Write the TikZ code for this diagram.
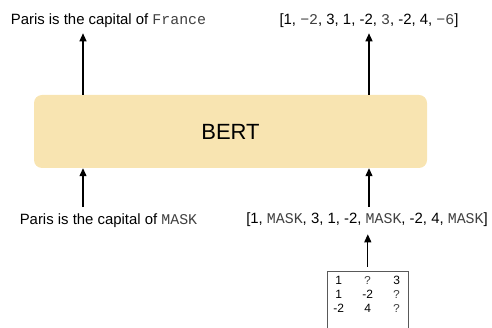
\documentclass[tikz,border=0pt]{standalone}
\usepackage{fontspec}
\setmainfont{Liberation Sans}
\setmonofont{Liberation Mono}
\usetikzlibrary{arrows.meta,matrix}
\definecolor{bertfill}{HTML}{F8E4B1}
\definecolor{monogray}{gray}{0.25}
% predicted / masked tokens are set in a typewriter face
\newcommand{\tok}[1]{{\ttfamily\color{monogray}#1}}

\begin{document}
\begin{tikzpicture}[x=1pt,y=-1pt,
  lbl/.style={font=\fontsize{14.9}{17}\selectfont, inner sep=0pt, anchor=base},
  arr/.style={-{Triangle[length=8pt,width=7pt]}, line width=1.2pt},
  modelbox/.style={fill=bertfill, rounded corners=8pt, minimum width=393pt,
    minimum height=73pt, font=\fontsize{22}{26}\selectfont},
  tblframe/.style={draw=black!65, line width=0.8pt}]
\useasboundingbox (0,0) rectangle (492,328);

% model
\node[modelbox] (bert) at (230.5,131.5) {BERT};

% arrow columns
\coordinate (xL) at (83,0);
\coordinate (xR) at (369,0);

% outputs
\node[lbl] (outL) at (108.5,25) {Paris is the capital of \tok{France}};
\node[lbl] (outR) at (369,25) {[1, \tok{−2}, 3, 1, -2, \tok{3}, -2, 4, \tok{−6}]};

% inputs
\node[lbl] (inL) at (108.5,225) {Paris is the capital of \tok{MASK}};
\node[lbl] (inR) at (367,224) {[1, \tok{MASK}, 3, 1, -2, \tok{MASK}, -2, 4, \tok{MASK}]};

% partially observed table
\matrix (tbl) [matrix of nodes, anchor=north east, inner sep=0pt,
  column sep=7pt, row sep=0pt,
  nodes={anchor=center, minimum width=22pt, minimum height=14pt, inner sep=0pt,
    font=\fontsize{12}{14}\selectfont}] at (408,273) {
  1  & \tok{?} & 3 \\
  1  & -2      & \tok{?} \\
  -2 & 4       & \tok{?} \\
};
\draw[tblframe] ([yshift=2pt]tbl.north west) rectangle ([yshift=-20pt]tbl.south east);

% connectors
\draw[arr, shorten >=5pt] (bert.north -| xL) -- (outL.south -| xL);
\draw[arr, shorten >=5pt] (bert.north -| xR) -- (outR.south -| xR);
\draw[arr, shorten <=7pt] (inL.north -| xL) -- (bert.south -| xL);
\draw[arr, shorten <=6pt] (inR.north -| xR) -- (bert.south -| xR);
\draw[arr, shorten <=6pt, shorten >=7pt] (tbl.north) -- (inR.south -| tbl.north);
\end{tikzpicture}
\end{document}
